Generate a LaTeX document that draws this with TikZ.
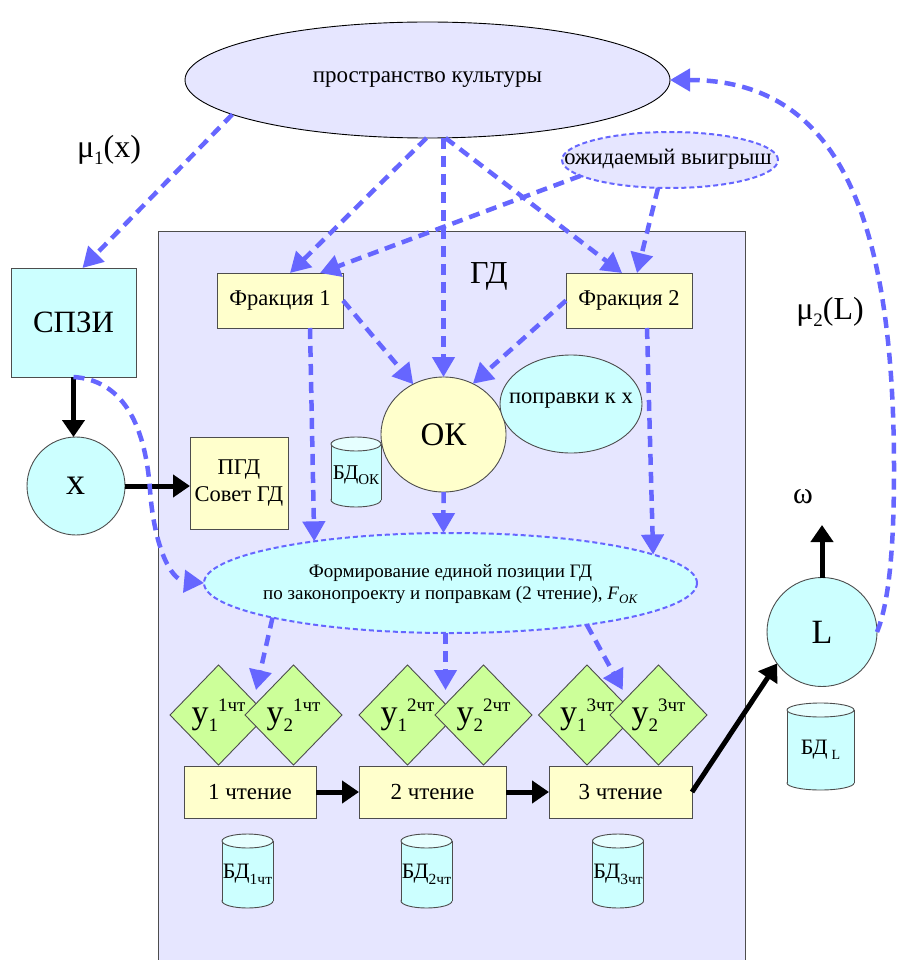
\documentclass[tikz,border=0pt]{standalone}
\usepackage{fontspec}
\setmainfont{Liberation Serif}
\usetikzlibrary{shapes.geometric,arrows.meta,calc}
\definecolor{lav}{HTML}{E6E6FF}
\definecolor{yel}{HTML}{FFFFCC}
\definecolor{cya}{HTML}{CCFFFF}
\definecolor{cyatop}{HTML}{E6FFFF}
\definecolor{grn}{HTML}{CCFF99}
\definecolor{blu}{HTML}{6666FF}
\definecolor{bord}{HTML}{4D4D4D}
\newcommand\fsz[2]{\fontsize{#1}{#2}\selectfont}
\newcommand\ylab[2]{{\fsz{34}{36}у}{\fsz{19}{22}\raisebox{-8pt}{#1}\raisebox{12pt}{#2}}}
\tikzset{
 bx/.style={draw=bord, line width=0.9pt, inner sep=0pt, outer sep=0pt},
 ybox/.style={bx, rectangle, fill=yel},
 cbox/.style={bx, rectangle, fill=cya},
 blarr/.style={draw=blu, line width=4.5pt, dash pattern=on 11pt off 7pt, -{Triangle[length=20pt,width=22pt]}},
 bkarr/.style={draw=black, line width=5pt, -{Triangle[length=17pt,width=22pt]}},
 dell/.style={ellipse, draw=blu, line width=2pt, dash pattern=on 5pt off 3pt, inner sep=0pt},
 dia/.style={diamond, bx, fill=grn, minimum width=97pt, minimum height=100pt},
 cylb/.style={fill=cya, draw=bord, line width=0.9pt},
}
\newcommand\dbcyl[6]{%
 \path[cylb] (#2,#3+#5/2-7) ellipse [x radius=#4/2, y radius=7];
 \fill[cya] (#2-#4/2,#3-#5/2+7) rectangle (#2+#4/2,#3+#5/2-7);
 \draw[bord, line width=0.9pt] (#2-#4/2,#3-#5/2+7) -- (#2-#4/2,#3+#5/2-7) (#2+#4/2,#3-#5/2+7) -- (#2+#4/2,#3+#5/2-7);
 \path[cylb, fill=cyatop] (#2,#3-#5/2+7) ellipse [x radius=#4/2, y radius=7];
 \node (#1) at (#2,#3+3) {#6};
}
\begin{document}
\begin{tikzpicture}[x=1pt,y=-1pt, every node/.style={inner sep=0pt, outer sep=0pt}]
\useasboundingbox (0,0) rectangle (897,960);
\fill[white] (0,0) rectangle (897,960);
% GD frame
\node[bx, rectangle, fill=lav, anchor=north west, minimum width=587pt, minimum height=745pt] (gd) at (158,231) {};
\node (gdl) at (489,276) {\fsz{32}{34}ГД};
% top
\node[bx, ellipse, draw=black, fill=lav, minimum width=485pt, minimum height=116pt] (cult) at (427.5,80) {};
\node (cultt) at (cult) {\fsz{23}{26}пространство культуры};
\node[dell, fill=lav, minimum width=216pt, minimum height=56pt] (win) at (670,160) {};
\node (wint) at (668,159) {\fsz{22.5}{24}ожидаемый выигрыш};
\node (mu1) at (109,150) {\fsz{32}{34}μ{\fsz{19}{20}\raisebox{-7pt}{1}}(x)};
\node (mu2) at (830,312) {\fsz{32}{34}μ{\fsz{19}{20}\raisebox{-7pt}{2}}(L)};
% boxes
\node[ybox, minimum width=126pt, minimum height=55pt] (fr1) at (280,300.5) {\fsz{22.5}{24}Фракция 1};
\node[ybox, minimum width=126pt, minimum height=55pt] (fr2) at (629,300.5) {\fsz{22.5}{24}Фракция 2};
\node[cbox, minimum width=125pt, minimum height=109pt] (spzi) at (73.5,322.5) {\fsz{31}{33}СПЗИ};
\node[bx, circle, fill=cya, minimum size=98pt] (xc) at (76,486) {\fsz{38}{40}x};
\node[ybox, minimum width=98pt, minimum height=92pt, align=center, font=\fsz{22.5}{27}] (pgd) at (239,483) {ПГД\\Совет ГД};
\dbcyl{cok}{356}{472}{50}{70}{{\fsz{21}{22}БД}{\fsz{15}{16}\raisebox{-5pt}{ОК}}}
\node[bx, ellipse, fill=yel, minimum width=125pt, minimum height=115pt] (ok) at (443.5,434.5) {};
\node (okt) at (ok) {\fsz{33}{35}ОК};
\node[bx, ellipse, fill=cya, minimum width=142pt, minimum height=98pt] (popr) at (571,404) {};
\node (poprt) at (571,401) {\fsz{22.5}{24}поправки к х};
\node[dell, fill=cya, minimum width=493pt, minimum height=100pt] (form) at (450.5,583) {};
\node[align=center, font=\fsz{19}{22}] (formt) at (450.5,584) {Формирование единой позиции ГД\\по законопроекту и поправкам (2 чтение), \textit{F}{\fsz{13}{14}\raisebox{-4pt}{\textit{ОК}}}};
% diamonds
\node[dia] (d11) at (218.5,715) {};
\node[dia] (d12) at (293.5,715) {};
\node[dia] (d21) at (407.5,715) {};
\node[dia] (d22) at (483.5,715) {};
\node[dia] (d31) at (587,715) {};
\node[dia] (d32) at (658.5,715) {};
\node (l11) at (d11) {\ylab{1}{1чт}};
\node (l12) at (d12) {\ylab{2}{1чт}};
\node (l21) at (d21) {\ylab{1}{2чт}};
\node (l22) at (d22) {\ylab{2}{2чт}};
\node (l31) at (d31) {\ylab{1}{3чт}};
\node (l32) at (d32) {\ylab{2}{3чт}};
% readings
\node[ybox, minimum width=132pt, minimum height=52pt] (r1) at (250,792) {\fsz{23}{24}1 чтение};
\node[ybox, minimum width=147pt, minimum height=52pt] (r2) at (432.5,792) {\fsz{23}{24}2 чтение};
\node[ybox, minimum width=143pt, minimum height=52pt] (r3) at (620.5,792) {\fsz{23}{24}3 чтение};
\dbcyl{c1}{247.5}{871}{51}{74}{{\fsz{22}{23}БД}{\fsz{15.5}{16}\raisebox{-6pt}{1чт}}}
\dbcyl{c2}{426.5}{871}{51}{74}{{\fsz{22}{23}БД}{\fsz{15.5}{16}\raisebox{-6pt}{2чт}}}
\dbcyl{c3}{618}{871}{51}{74}{{\fsz{22}{23}БД}{\fsz{15.5}{16}\raisebox{-6pt}{3чт}}}
% L
\node[bx, ellipse, fill=cya, minimum width=110pt, minimum height=109pt] (L) at (822,632) {};
\node (Lt) at (L) {\fsz{34}{36}L};
\dbcyl{cl}{820.5}{746.5}{67}{87}{{\fsz{22}{23}БД}\hspace{4pt}{\fsz{14}{15}\raisebox{-5pt}{L}}}
\node (om) at (803,497) {\fsz{30}{32}ω};
\coordinate (omtip) at (822,525);
% black arrows
\draw[bkarr] (spzi.south) -- (spzi.south |- xc.north);
\draw[bkarr] (xc.east) -- (xc.east -| pgd.west);
\draw[bkarr] (r1.east) -- (r2.west);
\draw[bkarr] (r2.east) -- (r3.west);
\draw[bkarr] (r3.east) -- (L.215);
\draw[bkarr] (L.north) -- (omtip);
% blue arrows
\draw[blarr] (cult.190.5) -- ([xshift=9pt]spzi.north);
\draw[blarr] ([xshift=-1pt]cult.south) -- ([xshift=10pt]fr1.north);
\draw[blarr] (ok.north |- cult.south) -- (ok.north);
\draw[blarr] ([xshift=18pt]cult.south) -- ([xshift=-7pt]fr2.north);
\draw[blarr] (win.190) -- ([xshift=40pt]fr1.north);
\draw[blarr] ([xshift=-12pt]win.south) -- ([xshift=8pt]fr2.north);
\draw[blarr] (fr1.east) -- (ok.121);
\draw[blarr] (fr2.west) -- (ok.60);
\draw[blarr] ([xshift=30pt]fr1.south) -- (form.163.7);
\draw[blarr] ([xshift=18pt]fr2.south) -- (form.8.7);
\draw[blarr] (ok.south) -- (form.98);
\draw[blarr] (form.191.3) -- ($(d11.north east)!.5!(d12.north west)$);
\draw[blarr] ([xshift=-5pt]form.south) -- ($(d21.north east)!.5!(d22.north west)$);
\draw[blarr] (form.343.9) -- ($(d31.north east)!.5!(d32.north west)$);
\draw[blarr] (spzi.south) .. controls (120,380) and (145,420) .. (150,490) .. controls (154,545) and (170,580) .. (form.west);
\draw[blarr] (L.east) .. controls (890,600) and (894,540) .. (894,470) .. controls (894,200) and (830,80) .. (cult.east);
\end{tikzpicture}
\end{document}
